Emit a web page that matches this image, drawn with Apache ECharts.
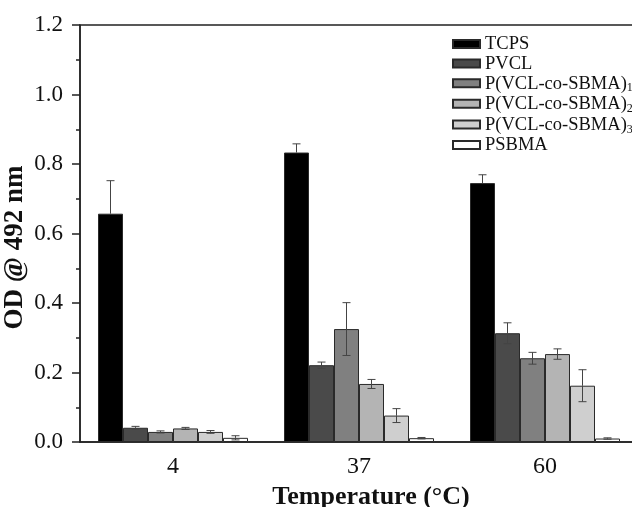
<!DOCTYPE html>
<html>
<head>
<meta charset="utf-8">
<script src="https://cdn.jsdelivr.net/npm/echarts@6/dist/echarts.min.js"></script>
<style>
  html, body { margin: 0; padding: 0; background: #fff; }
  #chart { width: 632px; height: 507px; }
</style>
</head>
<body>
<div id="chart"></div>
<script>
const temps = ['4', '37', '60'];

const tcps = [0.657, 0.833, 0.745];
const tcpsErr = [0.095, 0.025, 0.024];
const pvcl = [0.041, 0.221, 0.313];
const pvclErr = [0.004, 0.009, 0.03];
const p1 = [0.029, 0.325, 0.241];
const p1Err = [0.003, 0.076, 0.017];
const p2 = [0.039, 0.167, 0.253];
const p2Err = [0.003, 0.013, 0.015];
const p3 = [0.029, 0.076, 0.162];
const p3Err = [0.004, 0.02, 0.046];
const psbma = [0.012, 0.011, 0.01];
const psbmaErr = [0.006, 0.002, 0.002];

const names = ['TCPS', 'PVCL', 'P(VCL-co-SBMA)1', 'P(VCL-co-SBMA)2', 'P(VCL-co-SBMA)3', 'PSBMA'];
const colors = ['#000000', '#4a4a4a', '#808080', '#b4b4b4', '#cfcfcf', '#ffffff'];
const values = [tcps, pvcl, p1, p2, p3, psbma];
const errors = [tcpsErr, pvclErr, p1Err, p2Err, p3Err, psbmaErr];

const BAR_W = 25;
const FONT = '"Liberation Serif", "Times New Roman", serif';

const chart = echarts.init(document.getElementById('chart'));

const barSeries = names.map((n, i) => ({
  name: n,
  type: 'bar',
  barWidth: BAR_W,
  barGap: '0%',
  data: values[i],
  itemStyle: { color: colors[i], borderColor: '#2a2a2a', borderWidth: 1 },
}));

// error bars drawn at each bar's x offset
const errSeries = names.map((n, i) => ({
  type: 'custom',
  silent: true,
  z: 5,
  data: values[i].map((v, k) => [k, v, errors[i][k]]),
  renderItem: (params, api) => {
    const k = api.value(0);
    const v = api.value(1);
    const e = api.value(2);
    const off = (i - 2.5) * BAR_W;
    const mid = api.coord([k, v]);
    const hi = api.coord([k, v + e]);
    const lo = api.coord([k, v - e]);
    const x = hi[0] + off;
    const cap = 4;
    const style = { stroke: '#444', lineWidth: 1 };
    const kids = [
      { type: 'line', shape: { x1: x, y1: hi[1], x2: x, y2: mid[1] }, style },
      { type: 'line', shape: { x1: x - cap, y1: hi[1], x2: x + cap, y2: hi[1] }, style },
    ];
    // lower half is hidden inside the black bar
    if (i > 0) {
      kids.push({ type: 'line', shape: { x1: x, y1: mid[1], x2: x, y2: lo[1] }, style });
      kids.push({ type: 'line', shape: { x1: x - cap, y1: lo[1], x2: x + cap, y2: lo[1] }, style });
    }
    return { type: 'group', children: kids };
  },
}));

chart.setOption({
  animation: false,
  grid: {
    left: 80, right: -6, top: 25, bottom: 65,
    outerBoundsMode: 'none',
    containLabel: false,
    show: true, borderColor: '#222', borderWidth: 1.5,
  },
  legend: {
    orient: 'vertical',
    left: 452,
    top: 35,
    padding: 0,
    itemWidth: 27,
    itemHeight: 8,
    itemGap: 0.6,
    icon: 'rect',
    data: names,
    formatter: (name) => {
      const m = name.match(/^(.*\))(\d)$/);
      if (m) return '{a|' + m[1] + '}{s|' + m[2] + '}';
      return '{a|' + name + '}';
    },
    textStyle: {
      fontFamily: FONT,
      color: '#111',
      rich: {
        a: { fontFamily: FONT, fontSize: 18.5, lineHeight: 18, verticalAlign: 'top', color: '#111' },
        s: { fontFamily: FONT, fontSize: 12, lineHeight: 11, padding: [8, 0, 0, 0], verticalAlign: 'top', color: '#111' },
      },
    },
  },
  xAxis: [
    {
      type: 'category',
      data: temps,
      name: 'Temperature (°C)',
      nameLocation: 'middle',
      nameGap: 35,
      nameTextStyle: { fontFamily: FONT, fontSize: 26, fontWeight: 'bold', color: '#111', padding: [0, 0, 0, 24] },
      axisLine: { lineStyle: { color: '#222', width: 1.5 } },
      axisTick: { alignWithLabel: true, length: 8, lineStyle: { color: '#222', width: 1.5 } },
      axisLabel: { fontFamily: FONT, fontSize: 24, color: '#111', margin: 13 },
      splitLine: { show: false },
    },
    {
      type: 'category',
      data: temps,
      position: 'bottom',
      axisLine: { show: false },
      axisTick: { length: 5, lineStyle: { color: '#222', width: 1.5 } },
      axisLabel: { show: false },
      splitLine: { show: false },
    },
  ],
  yAxis: {
    type: 'value',
    min: 0,
    max: 1.2,
    interval: 0.2,
    name: 'OD @ 492 nm',
    nameLocation: 'middle',
    nameGap: 51,
    nameMoveOverlap: false,
    nameTextStyle: { fontFamily: FONT, fontSize: 27, fontWeight: 'bold', color: '#111', padding: [0, 28, 0, 0] },
    axisLine: { show: true, lineStyle: { color: '#222', width: 1.5 } },
    axisTick: { show: true, length: 8, lineStyle: { color: '#222', width: 1.5 } },
    minorTick: { show: true, splitNumber: 2, length: 4, lineStyle: { color: '#222', width: 1.5 } },
    axisLabel: { fontFamily: FONT, fontSize: 23, color: '#111', margin: 17, formatter: (v) => v.toFixed(1) },
    splitLine: { show: false },
  },
  series: [...barSeries, ...errSeries],
});
</script>
</body>
</html>
